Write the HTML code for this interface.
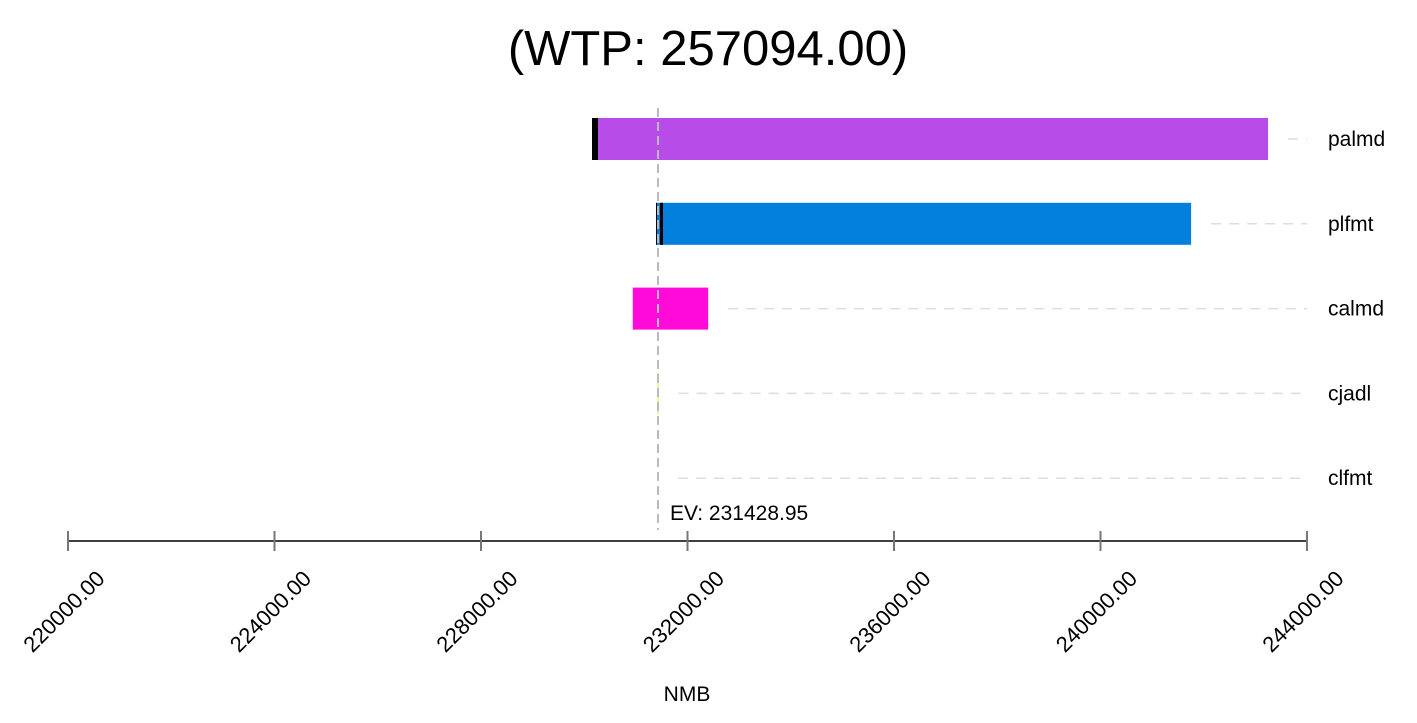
<!DOCTYPE html>
<html><head><meta charset="utf-8"><style>body{margin:0;background:#fff}svg{display:block}text{font-family:"Liberation Sans",Arial,sans-serif}</style></head>
<body>
<svg id="c" width="1417" height="723"></svg>
<script>
const categories=["palmd","plfmt","calmd","cjadl","clfmt"];
const lowValues=[230150,231400,230940,231420,231428.95];
const highValues=[243245,241755,232400,231440,231428.95];
const colors=["#b84ce8","#0380dc","#ff0ad8","#d8f040","#888"];
const ticks=[220000,224000,228000,232000,236000,240000,244000];
const ev=231428.95;
const NS="http://www.w3.org/2000/svg",svg=document.getElementById('c');
const x=v=>68+(v-220000)*(1239/24000);
const y=i=>139+i*84.8;
function el(t,a,p){const e=document.createElementNS(NS,t);for(const k in a)e.setAttribute(k,a[k]);(p||svg).appendChild(e);return e;}
let t=el('text',{x:708,y:65,'font-size':49,'text-anchor':'middle'});t.textContent='(WTP: 257094.00)';


categories.forEach((c,i)=>{
 const lo=Math.min(lowValues[i],highValues[i]),hi=Math.max(lowValues[i],highValues[i]);
 const start=Math.max(x(hi),x(ev))+20;
 let d=el('line',{x1:start,x2:1307,y1:y(i),y2:y(i),stroke:'#ddd','stroke-width':1.5,'stroke-dasharray':'10,8'});
 
 
 if(hi-lo>0){
  let r=el('rect',{x:x(lo),y:y(i)-21,width:Math.max(1,x(hi)-x(lo)),height:42,fill:colors[i]});
  
  
 }
 let l=el('text',{x:1328,y:y(i)+7,'font-size':21});l.textContent=c;
 
 
});
let m1=el('rect',{x:x(lowValues[0]),y:y(0)-21,width:6,height:42,fill:'#000'});


let m2=el('rect',{x:x(ev)+2,y:y(1)-21,width:3,height:42,fill:'#000'});


let m3=el('rect',{x:x(ev)-2,y:y(1)-21,width:1,height:42,fill:'#000'});


let evl=el('line',{x1:x(ev),x2:x(ev),y1:108,y2:530,stroke:'#bbb','stroke-width':2,'stroke-dasharray':'9,5'});


let evt=el('text',{x:x(ev)+12,y:520,'font-size':21});evt.textContent='EV: '+ev.toFixed(2);


let ax=el('line',{x1:68,x2:1307,y1:541,y2:541,stroke:'#000','stroke-width':1.5});


ticks.forEach(v=>{
 let tk=el('line',{x1:x(v),x2:x(v),y1:531,y2:551,stroke:'#777','stroke-width':2});
 
 
 let tl=el('text',{x:x(v)+38,y:580,'font-size':22,'text-anchor':'end',transform:`rotate(-45 ${x(v)+38} 580)`});
 tl.textContent=v.toFixed(2);
 
 
});
let xt=el('text',{x:687,y:701,'font-size':21,'text-anchor':'middle'});xt.textContent='NMB';


</script>
</body></html>
